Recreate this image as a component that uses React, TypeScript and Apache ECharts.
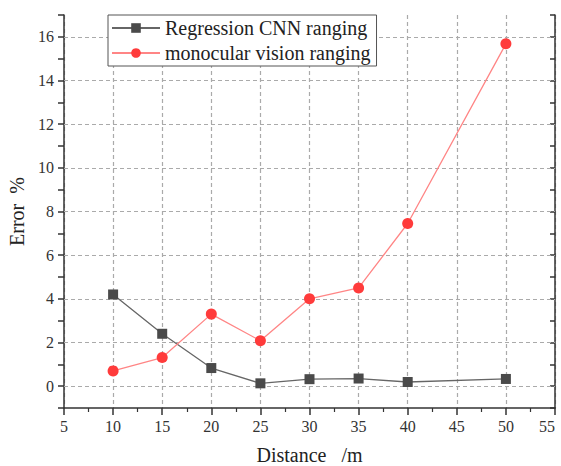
import React, { useEffect, useRef } from "react";
import * as echarts from "echarts";

const distances = [10, 15, 20, 25, 30, 35, 40, 50];
const cnnError = [4.2, 2.4, 0.83, 0.13, 0.32, 0.35, 0.19, 0.33];
const monoError = [0.7, 1.31, 3.3, 2.08, 4.0, 4.5, 7.45, 15.68];
const yGridValues = [0, 2, 4, 6, 8, 10, 12, 14, 16];
const seriesNames = ["Regression CNN ranging", "monocular vision ranging"];

const FONT = "'Liberation Serif', serif";

export default function App() {
  const ref = useRef<HTMLDivElement>(null);
  useEffect(() => {
    if (!ref.current) return;
    const chart = echarts.init(ref.current, null, { renderer: "svg" });
    const axisLineStyle = { color: "#333", width: 1.5 };
    const gridLineStyle = { color: "#aaa", width: 1.2, type: [4, 3] as any };
    chart.setOption({
      animation: false,
      backgroundColor: "#fff",
      textStyle: { fontFamily: FONT },
      grid: { left: 64, right: 6, top: 15, bottom: 58, containLabel: false, outerBoundsMode: "none" },
      legend: {
        orient: "vertical",
        left: 108,
        top: 15,
        padding: [3, 6, 3, 3],
        itemGap: 5,
        itemWidth: 48,
        itemHeight: 12,
        borderColor: "#555",
        borderWidth: 1,
        backgroundColor: "#fff",
        textStyle: { fontFamily: FONT, fontSize: 20, color: "#222" },
        data: seriesNames,
      },
      xAxis: {
        type: "value",
        min: 5,
        max: 55,
        interval: 5,
        name: "Distance   /m",
        nameLocation: "middle",
        nameGap: 37,
        nameTextStyle: { fontFamily: FONT, fontSize: 20, color: "#222" },
        axisLine: { show: true, onZero: false, lineStyle: axisLineStyle },
        axisTick: { show: true, inside: false, length: 7, lineStyle: axisLineStyle },
        minorTick: { show: true, splitNumber: 2, length: 4, lineStyle: { color: "#333", width: 1.2 } },
        axisLabel: { fontFamily: FONT, fontSize: 16, color: "#333", margin: 10, alignMaxLabel: "right" },
        splitLine: { show: true, lineStyle: gridLineStyle },
      },
      yAxis: [
        {
          type: "value",
          min: -1,
          max: 17,
          interval: 1,
          name: "Error  %",
          nameLocation: "middle",
          nameGap: 34,
          nameRotate: 90,
          nameTextStyle: { fontFamily: FONT, fontSize: 20, color: "#222" },
          axisLine: { show: true, onZero: false, lineStyle: axisLineStyle },
          axisTick: { show: true, inside: false, length: 6, lineStyle: axisLineStyle },
          axisLabel: {
            fontFamily: FONT,
            fontSize: 16,
            color: "#333",
            margin: 10,
            formatter: (v: number) => (Math.round(v) % 2 === 0 ? String(Math.round(v)) : ""),
          },
          splitLine: { show: false },
        },
        {
          type: "value",
          position: "right",
          min: -1,
          max: 17,
          interval: 1,
          axisLine: { show: true, onZero: false, lineStyle: axisLineStyle },
          axisTick: { show: true, inside: true, length: 5, lineStyle: axisLineStyle },
          axisLabel: { show: false },
          splitLine: { show: false },
        },
      ],
      series: [
        {
          name: seriesNames[0],
          type: "line",
          data: distances.map((d, i) => [d, cnnError[i]]),
          symbol: "rect",
          symbolSize: 10,
          itemStyle: { color: "#4a4a4a" },
          lineStyle: { color: "#666", width: 1.3 },
          z: 3,
          markLine: {
            silent: true,
            symbol: ["none", "none"],
            label: { show: false },
            lineStyle: gridLineStyle,
            z: 1,
            data: yGridValues.map((v) => ({ yAxis: v })),
          },
        },
        {
          name: seriesNames[1],
          type: "line",
          data: distances.map((d, i) => [d, monoError[i]]),
          symbol: "circle",
          symbolSize: 11,
          itemStyle: { color: "#ff3b3b" },
          lineStyle: { color: "#ff8585", width: 1.3 },
          z: 4,
        },
      ],
    });
    return () => chart.dispose();
  }, []);
  return (
    <div
      ref={ref}
      style={{ position: "fixed", left: 0, top: 0, width: 561, height: 466, background: "#fff" }}
    />
  );
}
